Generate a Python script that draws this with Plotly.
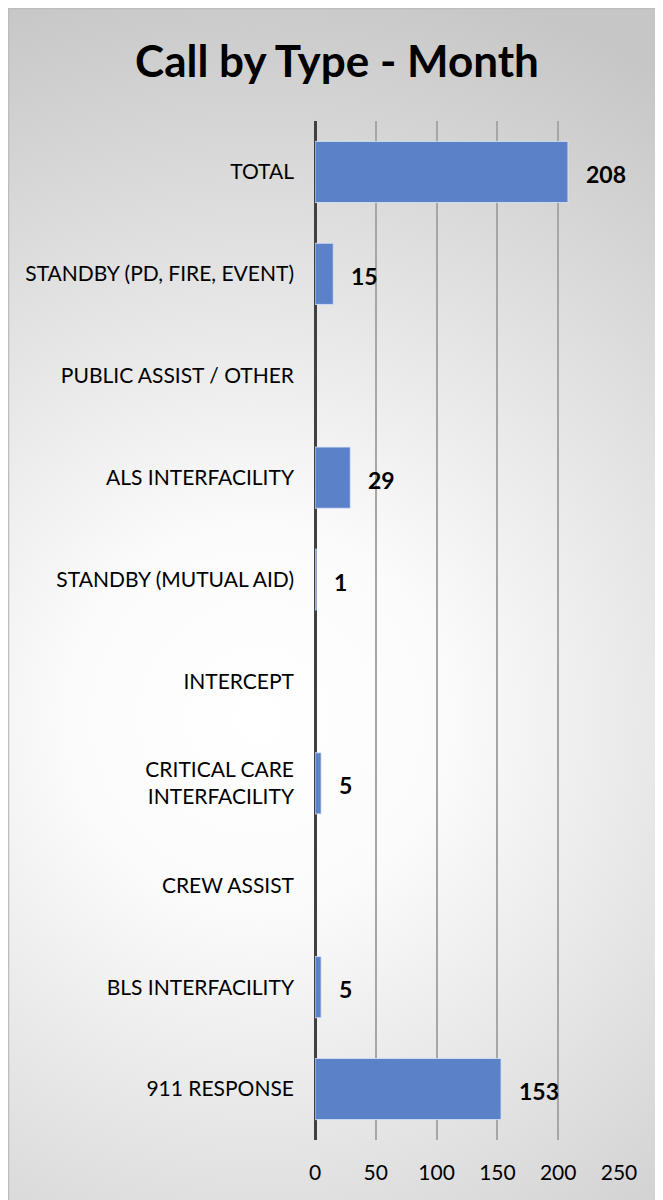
import base64
import plotly.graph_objects as go

categories = ["911 RESPONSE", "BLS INTERFACILITY", "CREW ASSIST",
              "CRITICAL CARE<br>INTERFACILITY", "INTERCEPT", "STANDBY (MUTUAL AID)",
              "ALS INTERFACILITY", "PUBLIC ASSIST / OTHER",
              "STANDBY (PD, FIRE, EVENT)", "TOTAL"]
values = [153, 5, None, 5, None, 1, 29, None, 15, 208]
x_ticks = [0, 50, 100, 150, 200, 250]

# page body adds an 8px margin, so the figure is 8px smaller than the window
W, H = 655, 1192
L, R, T, B = 307, 44, 113, 60
pw, ph = W - L - R, H - T - B

svg = f'''<svg xmlns="http://www.w3.org/2000/svg" width="{W}" height="{H}" viewBox="0 0 {W} {H}">
<defs><radialGradient id="g" gradientUnits="userSpaceOnUse" cx="250" cy="710" r="760">
<stop offset="0" stop-color="#ffffff"/><stop offset="0.25" stop-color="#fbfbfb"/>
<stop offset="1" stop-color="#c6c6c6"/></radialGradient></defs>
<rect x="0" y="0" width="{W}" height="{H}" fill="url(#g)"/>
<rect x="0.5" y="0.5" width="{W+10}" height="{H+10}" fill="none" stroke="#bdbdbd" stroke-width="1.5"/>
</svg>'''
src = "data:image/svg+xml;base64," + base64.b64encode(svg.encode()).decode()

fig = go.Figure()
fig.add_trace(go.Bar(
    y=categories, x=values, orientation="h", width=0.6,
    marker=dict(color="#5b81c9", line=dict(color="rgba(220,230,250,0.8)", width=1)),
    hoverinfo="skip",
))

for c, v in zip(categories, values):
    if v is not None:
        fig.add_annotation(x=v, y=c, text=f"<b>{v}</b>", showarrow=False,
                           xanchor="left", xshift=16, yshift=-2,
                           font=dict(family="Lato", size=23, color="#000000"))

fig.add_layout_image(dict(source=src, xref="paper", yref="paper",
                          x=-L / pw, y=1 + T / ph, sizex=W / pw, sizey=H / ph,
                          xanchor="left", yanchor="top", sizing="stretch",
                          layer="below"))

fig.update_layout(
    width=W, height=H, margin=dict(l=L, r=R, t=T, b=B),
    paper_bgcolor="rgba(0,0,0,0)", plot_bgcolor="rgba(0,0,0,0)",
    title=dict(text="<b>Call by Type - Month</b>", x=329 / W, xanchor="center",
               y=1 - 54 / H, yanchor="middle",
               font=dict(family="Lato", size=44, color="#000000")),
    showlegend=False,
    xaxis=dict(range=[0, 250], tickvals=x_ticks, ticktext=[str(t) for t in x_ticks],
               showgrid=True, gridcolor="#a6a6a6", gridwidth=1.5,
               zeroline=True, zerolinecolor="#404040", zerolinewidth=3,
               showline=False, ticks="", ticklabelstandoff=18,
               tickfont=dict(family="Lato", size=21, color="#000000")),
    yaxis=dict(categoryorder="array", categoryarray=categories,
               showgrid=False, showline=False, ticks="", ticklabelstandoff=20,
               tickfont=dict(family="Lato", size=21, color="#000000")),
)

fig.write_html("out.html")
